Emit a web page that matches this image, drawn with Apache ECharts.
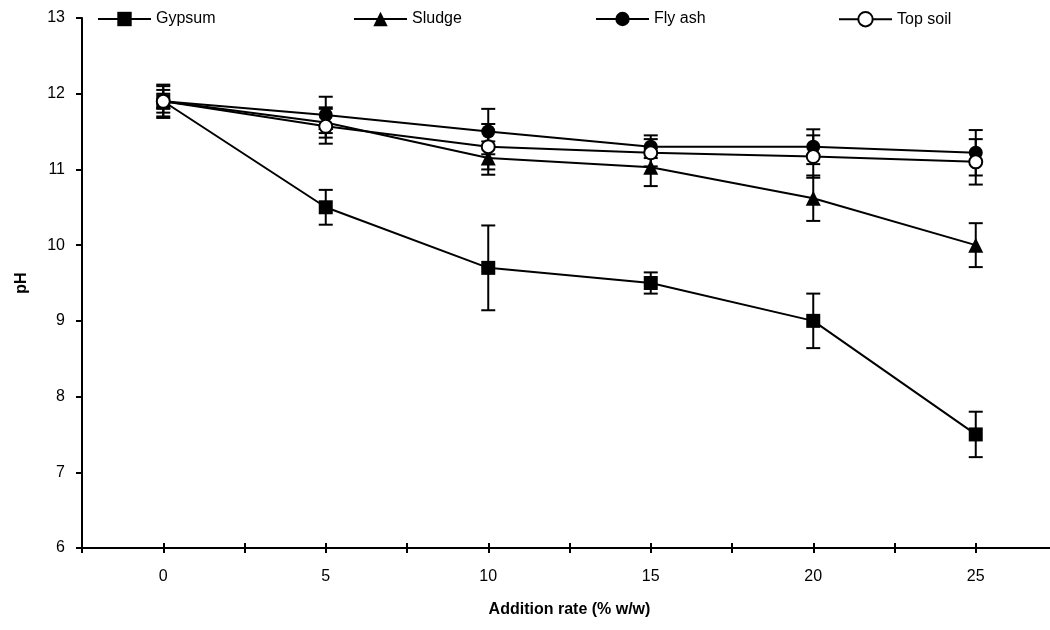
<!DOCTYPE html>
<html>
<head>
<meta charset="utf-8">
<script src="https://cdn.jsdelivr.net/npm/echarts@6/dist/echarts.min.js"></script>
<style>
  html, body { margin: 0; padding: 0; background: #fff; }
  #chart { width: 1050px; height: 630px; }
</style>
</head>
<body>
<div id="chart"></div>
<script type="text/javascript">
    // addition rate (% w/w)
    var rates = [0, 5, 10, 15, 20, 25];

    // pH means and standard errors
    var gypsum = [11.9, 10.5, 9.7, 9.5, 9.0, 7.5];
    var gypsumErr = [0.2, 0.23, 0.56, 0.14, 0.36, 0.3];
    var sludge = [11.9, 11.62, 11.15, 11.03, 10.62, 10.0];
    var sludgeErr = [0.15, 0.2, 0.22, 0.25, 0.3, 0.29];
    var flyAsh = [11.9, 11.72, 11.5, 11.3, 11.3, 11.22];
    var flyAshErr = [0.1, 0.24, 0.3, 0.15, 0.23, 0.3];
    var topSoil = [11.9, 11.57, 11.3, 11.22, 11.17, 11.1];
    var topSoilErr = [0.22, 0.23, 0.3, 0.18, 0.28, 0.3];

    var xTickLabels = ['0', '5', '10', '15', '20', '25'];
    var yTickLabels = ['6', '7', '8', '9', '10', '11', '12', '13'];

    var font = 'Liberation Sans, Arial, sans-serif';

    function pairs(ys) {
        return rates.map(function (x, i) { return [x, ys[i]]; });
    }
    function bars(ys, es) {
        return rates.map(function (x, i) { return [x, ys[i] - es[i], ys[i] + es[i]]; });
    }

    function errorSeries(name, ys, es) {
        return {
            name: name + ' err',
            type: 'custom',
            z: 1,
            silent: true,
            encode: { x: 0, y: [1, 2] },
            data: bars(ys, es),
            renderItem: function (params, api) {
                var x = api.value(0);
                var lo = api.coord([x, api.value(1)]);
                var hi = api.coord([x, api.value(2)]);
                var w = 7;
                var st = { stroke: '#000', lineWidth: 2 };
                return {
                    type: 'group',
                    children: [
                        { type: 'line', shape: { x1: lo[0], y1: lo[1], x2: hi[0], y2: hi[1] }, style: st },
                        { type: 'line', shape: { x1: lo[0] - w, y1: lo[1], x2: lo[0] + w, y2: lo[1] }, style: st },
                        { type: 'line', shape: { x1: hi[0] - w, y1: hi[1], x2: hi[0] + w, y2: hi[1] }, style: st }
                    ]
                };
            }
        };
    }

    function lineSeries(name, ys, symbol, size, fill) {
        return {
            name: name,
            type: 'line',
            z: 3,
            data: pairs(ys),
            symbol: symbol,
            symbolSize: size,
            showAllSymbol: true,
            lineStyle: { color: '#000', width: 2 },
            itemStyle: { color: fill, borderColor: '#000', borderWidth: fill === '#fff' ? 2 : 0, opacity: 1 },
            emphasis: { disabled: true }
        };
    }

    function legendAt(name, left) {
        return {
            data: [name],
            left: left,
            top: 6,
            itemWidth: 53,
            itemHeight: 18,
            itemGap: 0,
            selectedMode: false,
            textStyle: { fontFamily: font, fontSize: 16, color: '#000' }
        };
    }

    var myChart = echarts.init(document.getElementById('chart'));

    var option = {
        animation: false,
        backgroundColor: '#fff',
        grid: { left: 82, top: 18, width: 975, height: 530, outerBoundsMode: 'none' },
        legend: [
            legendAt('Gypsum', 92),
            legendAt('Sludge', 348),
            legendAt('Fly ash', 590),
            legendAt('Top soil', 833)
        ],
        xAxis: [{
            type: 'value',
            min: -2.5,
            max: 27.5,
            interval: 2.5,
            name: 'Addition rate (% w/w)',
            nameLocation: 'middle',
            nameGap: 54,
            nameTextStyle: { fontFamily: font, fontSize: 16, fontWeight: 'bold', color: '#000' },
            splitLine: { show: false },
            axisLine: { onZero: false, lineStyle: { color: '#000', width: 2 } },
            axisTick: { inside: false, length: 5, lineStyle: { color: '#000', width: 2 } },
            axisLabel: {
                margin: 21,
                fontFamily: font,
                fontSize: 16,
                color: '#000',
                formatter: function (v) {
                    var i = rates.indexOf(v);
                    return i < 0 ? '' : xTickLabels[i];
                }
            }
        }, {
            type: 'value',
            position: 'bottom',
            min: -2.5,
            max: 27.5,
            interval: 2.5,
            splitLine: { show: false },
            axisLine: { show: false, onZero: false },
            axisTick: { inside: true, length: 5, lineStyle: { color: '#000', width: 2 } },
            axisLabel: { show: false }
        }],
        yAxis: {
            type: 'value',
            min: 6,
            max: 13,
            interval: 1,
            name: 'pH',
            nameLocation: 'middle',
            nameGap: 52,
            nameRotate: 90,
            nameTextStyle: { fontFamily: font, fontSize: 16, fontWeight: 'bold', color: '#000' },
            splitLine: { show: false },
            axisLine: { show: true, onZero: false, lineStyle: { color: '#000', width: 2 } },
            axisTick: { show: true, length: 6, lineStyle: { color: '#000', width: 2 } },
            axisLabel: {
                margin: 17,
                fontFamily: font,
                fontSize: 16,
                color: '#000',
                formatter: function (v) {
                    var i = Math.round(v - 6);
                    return yTickLabels[i] || '';
                }
            }
        },
        series: [
            errorSeries('Gypsum', gypsum, gypsumErr),
            errorSeries('Sludge', sludge, sludgeErr),
            errorSeries('Fly ash', flyAsh, flyAshErr),
            errorSeries('Top soil', topSoil, topSoilErr),
            lineSeries('Gypsum', gypsum, 'rect', 14, '#000'),
            lineSeries('Sludge', sludge, 'triangle', 15, '#000'),
            lineSeries('Fly ash', flyAsh, 'circle', 14, '#000'),
            lineSeries('Top soil', topSoil, 'circle', 13, '#fff')
        ]
    };

    myChart.setOption(option);
</script>
</body>
</html>
